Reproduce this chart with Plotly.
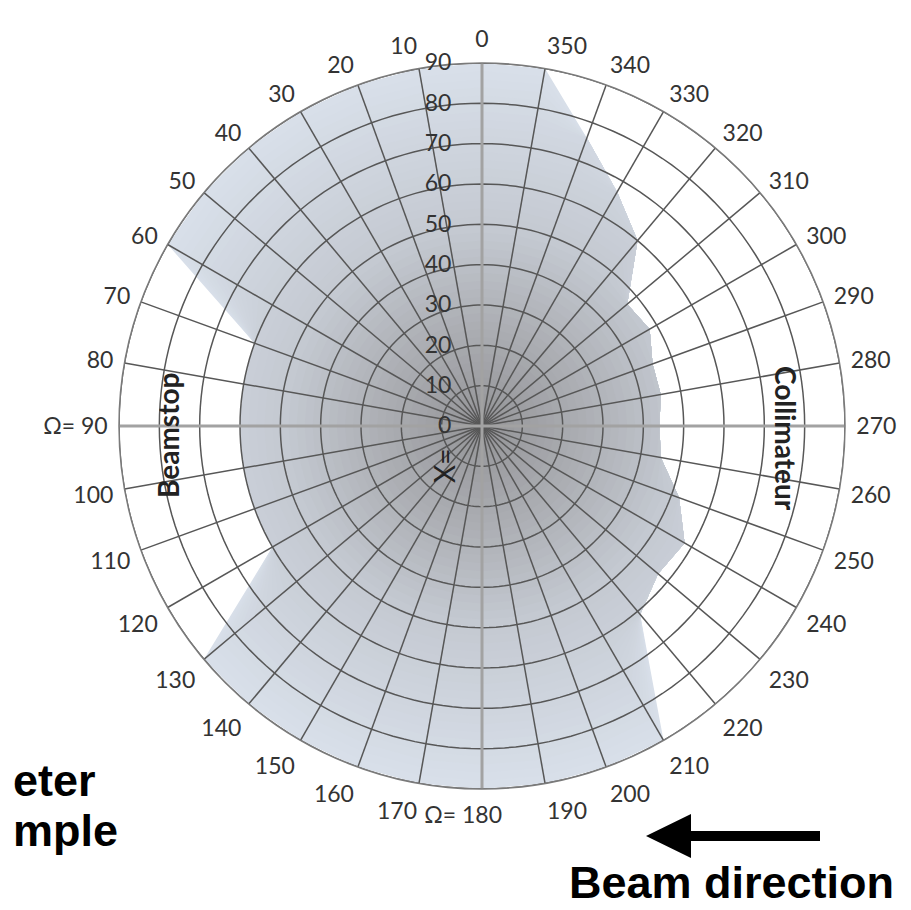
import plotly.graph_objects as go

# ---------------- data ----------------
angles = list(range(0, 360, 10))
coverage = [90, 90, 90, 90, 90, 90, 90,          # 0-60
            60, 60, 60, 60, 60, 60,              # 70-120
            90, 90, 90, 90, 90, 90, 90, 90, 90,  # 130-210
            61, 57, 58, 52, 45, 44, 45, 45, 48, 47, 60, 67, 76, 90]  # 220-350
angle_labels = [str(a) for a in angles]
angle_labels[9] = "Ω= 90"
angle_labels[18] = 'Ω= 180<span style="color:rgba(0,0,0,0)">\u00a0Ω=</span>'
radial_ticks = list(range(0, 100, 10))
cardinal_angles = [0, 90, 180, 270]
gradient_levels = list(range(90, 0, -2))

# ---------------- geometry / style ----------------
W, H = 911, 910
CX, CY, R = 474, 418, 363


def px(x):
    return x / W


def py(y):
    return 1 - y / H


stops = [(0, (146, 146, 149)), (25, (171, 173, 178)), (50, (196, 201, 209)),
         (90, (216, 223, 233))]


def grad(r):
    for (r0, c0), (r1, c1) in zip(stops[:-1], stops[1:]):
        if r0 <= r <= r1:
            f = (r - r0) / (r1 - r0)
            c = [round(a + (b - a) * f) for a, b in zip(c0, c1)]
            return "rgb(%d,%d,%d)" % tuple(c)
    return "rgb(%d,%d,%d)" % stops[-1][1]


fig = go.Figure()

# filled coverage with radial gradient (stacked layers)
for lvl in gradient_levels:
    rr = [min(c, lvl) for c in coverage]
    fig.add_trace(go.Scatterpolar(
        r=rr + rr[:1], theta=angles + angles[:1], mode="lines",
        fill="toself", fillcolor=grad(lvl), line=dict(width=0, color=grad(lvl)),
        hoverinfo="skip", showlegend=False))

# grid drawn above the fill
ring_t, ring_r = [], []
for t in radial_ticks[1:]:
    th = list(range(0, 361, 2))
    ring_t += th + [None]
    ring_r += [t] * len(th) + [None]
fig.add_trace(go.Scatterpolar(r=ring_r, theta=ring_t, mode="lines",
                              line=dict(color="#575757", width=1.5),
                              hoverinfo="skip", showlegend=False))
sp_t, sp_r = [], []
for a in angles:
    if a in cardinal_angles:
        continue
    sp_t += [a, a, None]
    sp_r += [0, 90, None]
fig.add_trace(go.Scatterpolar(r=sp_r, theta=sp_t, mode="lines",
                              line=dict(color="#575757", width=1.5),
                              hoverinfo="skip", showlegend=False))
cd_t, cd_r = [], []
for a in cardinal_angles:
    cd_t += [a, a, None]
    cd_r += [0, 90, None]
fig.add_trace(go.Scatterpolar(r=cd_r, theta=cd_t, mode="lines",
                              line=dict(color="#a2a2a2", width=3),
                              hoverinfo="skip", showlegend=False))

tick_font = dict(family="Lato, 'Open Sans', sans-serif", size=23, color="#333333")

fig.update_layout(
    width=W, height=H, margin=dict(l=0, r=0, t=0, b=0),
    paper_bgcolor="white", plot_bgcolor="white", showlegend=False,
    polar=dict(
        domain=dict(x=[px(CX - R), px(CX + R)], y=[py(CY + R), py(CY - R)]),
        bgcolor="white",
        angularaxis=dict(rotation=90, direction="counterclockwise",
                         tickmode="array", tickvals=angles, ticktext=angle_labels,
                         showgrid=False, showline=True, linecolor="#7a7a7a",
                         linewidth=1.5, ticks="outside", ticklen=6,
                         tickcolor="rgba(0,0,0,0)", tickfont=tick_font),
        radialaxis=dict(range=[0, 90], angle=90, tickangle=90,
                        tickmode="array", tickvals=radial_ticks,
                        ticktext=[str(t) for t in radial_ticks],
                        side="counterclockwise", showline=False, showgrid=False,
                        ticks="outside", ticklen=22, tickcolor="rgba(0,0,0,0)",
                        tickfont=tick_font),
    ),
)

lab_font = dict(family="Lato, 'Open Sans', sans-serif", size=28, color="#222222")
big_font = dict(family="'Liberation Sans', Arial, sans-serif", size=45, color="#000000")

annos = [
    dict(text="<b>Beamstop</b>", x=px(160), y=py(428), textangle=-90, font=lab_font),
    dict(text="<b>Collimateur</b>", x=px(778), y=py(430), textangle=90, font=lab_font),
    dict(text="X=", x=px(436), y=py(458), textangle=-90, font=lab_font),
    dict(text="<b>eter</b>", x=px(3), y=py(772), xanchor="left", font=big_font),
    dict(text="<b>mple</b>", x=px(3), y=py(822), xanchor="left", font=big_font),
    dict(text="<b>Beam direction</b>", x=px(888), y=py(874), xanchor="right", font=big_font),
]
for a in annos:
    a.setdefault("xanchor", "center")
    fig.add_annotation(xref="paper", yref="paper", showarrow=False, yanchor="middle", **a)

# beam direction arrow
pts = [(638, 828), (683, 806), (683, 823), (812, 823), (812, 833), (683, 833), (683, 850)]
path = "M " + " L ".join("%.5f,%.5f" % (px(x), py(y)) for x, y in pts) + " Z"
fig.add_shape(type="path", xref="paper", yref="paper", path=path,
              fillcolor="black", line=dict(width=0))

fig.write_html("out.html")
